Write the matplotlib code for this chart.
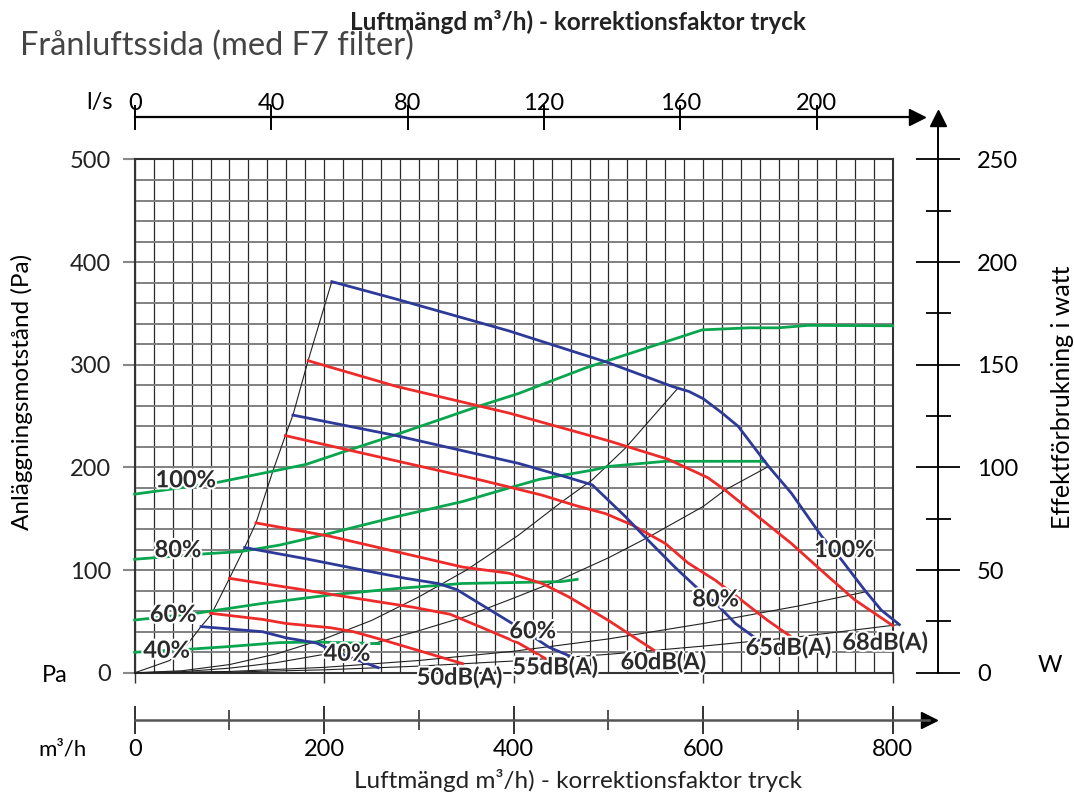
import matplotlib.pyplot as plt
import matplotlib.patheffects as pe

plt.rcParams['font.family'] = ['Lato', 'DejaVu Sans']

# fan curves: airflow (m3/h) against external pressure (Pa)
blue100_x = [208, 276, 395, 500, 567, 585, 600, 620, 637, 669, 693, 725, 746, 770, 788, 807]
blue100_y = [381, 364, 333, 302, 279, 274, 267, 253, 240, 201, 175, 133, 110, 81, 61, 47]
blue80_x = [167, 276, 405, 458, 483, 500, 518, 542, 570, 592, 613, 634, 658]
blue80_y = [251, 231, 204, 190, 183, 168, 152, 129, 103, 84, 68, 48, 32]
blue60_x = [116, 181, 241, 286, 320, 340, 363, 395, 416, 437, 460]
blue60_y = [122, 111, 100, 92, 87, 81, 68, 50, 38, 25, 16]
blue40_x = [70, 135, 160, 192, 210, 257]
blue40_y = [45, 40, 34, 29, 21, 5]

# sound level curves
red68_x = [183, 276, 395, 500, 563, 605, 623, 658, 693, 728, 760, 800]
red68_y = [304, 279, 253, 226, 208, 190, 178, 152, 126, 97, 71, 46]
red65_x = [159, 364, 395, 430, 465, 497, 525, 560, 584, 613, 640, 668, 693]
red65_y = [231, 188, 181, 173, 163, 155, 144, 126, 107, 90, 71, 51, 35]
red60_x = [128, 206, 276, 346, 395, 430, 458, 500, 548]
red60_y = [146, 133, 118, 103, 97, 87, 74, 51, 22]
red55_x = [100, 170, 210, 293, 333, 364, 405, 437]
red55_y = [92, 82, 76, 64, 57, 45, 29, 12]
red50_x = [80, 135, 160, 206, 231, 262, 333, 346]
red50_y = [58, 52, 48, 44, 40, 32, 12.5, 9]

# power consumption (W), right scale
green100_x = [0, 83, 146, 181, 223, 276, 363, 405, 476, 599, 648, 679, 711, 800]
green100_w = [87, 92.3, 98.2, 101.5, 108, 116, 129.8, 136, 148.5, 167, 168, 168, 169.2, 169]
green80_x = [0, 76, 111, 153, 206, 276, 346, 395, 427, 483, 500, 560, 665]
green80_w = [55.3, 58, 59, 62.2, 67.9, 76, 83.4, 90, 94.2, 98.7, 100.5, 103, 103]
green60_x = [0, 65, 135, 206, 276, 346, 405, 450, 467]
green60_w = [25.7, 29, 33.8, 37.9, 41, 43.5, 44, 44.4, 45.5]
green40_x = [0, 58, 100, 153, 192, 241, 258]
green40_w = [10, 11.5, 12.8, 14.7, 15, 14.4, 14.2]

# system curves through the origin
sys1_x = [0, 37, 55, 70, 81, 100, 116, 128, 146, 159, 167, 183, 208]
sys1_y = [0, 12, 27, 45, 57, 92, 122, 146, 197, 231, 251, 304, 381]
sys2_x = [0, 50, 100, 150, 200, 250, 300, 350, 405, 450, 483, 518, 574]
sys2_y = [0, 2, 8, 18.5, 33, 51, 74, 100, 134, 166, 188, 219, 278]
sys3_x = [0, 50, 100, 150, 200, 250, 300, 350, 395, 450, 500, 544, 600, 623, 669]
sys3_y = [0, 1.1, 4.5, 10, 18, 28, 41, 55, 71, 91, 112, 133, 162, 178, 201]
sys4_x = [0, 100, 200, 300, 400, 500, 600, 700, 772]
sys4_y = [0, 1.3, 5.3, 12, 21, 33, 48, 65, 79]
sys5_x = [0, 100, 200, 300, 400, 500, 600, 700, 807]
sys5_y = [0, 0.7, 2.9, 6.5, 11.5, 18, 26, 35, 47]

ls_ticks = [0, 40, 80, 120, 160, 200]
m3h_ticks = [0, 200, 400, 600, 800]
pa_ticks = [0, 100, 200, 300, 400, 500]
w_ticks = [0, 50, 100, 150, 200, 250]

# labels: (text, x, y)
fan_labels = [('100%', 749, 120), ('80%', 613, 72), ('60%', 420, 41), ('40%', 224, 19)]
power_labels = [('100%', 22, 188), ('80%', 21, 120), ('60%', 16, 57), ('40%', 9, 22)]
db_labels = [('50dB(A)', 343, -4), ('55dB(A)', 444, 6), ('60dB(A)', 558, 11),
             ('65dB(A)', 690, 25), ('68dB(A)', 792, 30)]

W_PX, H_PX = 1074, 796
X0, X800 = 134.7, 892.7      # pixel columns of 0 and 800 m3/h
Y0, Y500 = 672.8, 159.45     # pixel rows of 0 and 500 Pa
px_per_m3h = (X800 - X0) / 800
px_per_pa = (Y0 - Y500) / 500


def fx(px):
    return px / W_PX


def fy(py):
    return 1 - py / H_PX


fig = plt.figure(figsize=(10.74, 7.96), dpi=100)
ax = fig.add_axes([fx(X0), fy(Y0), fx(X800) - fx(X0), fy(Y500) - fy(Y0)])
ax.set_xlim(0, 800)
ax.set_ylim(0, 500)
ax.set_axisbelow(True)
ax.set_xticks(m3h_ticks)
ax.set_xticks(range(0, 801, 20), minor=True)
ax.set_yticks(pa_ticks)
ax.set_yticks(range(0, 501, 20), minor=True)
ax.xaxis.grid(True, which='both', color='#2a2a2a', lw=0.9)
ax.yaxis.grid(True, which='both', color='#808080', lw=1.4)
ax.tick_params(which='minor', length=0)
ax.tick_params(axis='x', which='major', direction='out', length=7, width=1, color='#333',
               labelbottom=False)
ax.tick_params(axis='y', which='major', direction='out', length=9, width=1.5, color='#888',
               labelsize=17, pad=8, labelcolor='#222')
for s in ax.spines.values():
    s.set_color('#333')
    s.set_linewidth(1.5)

for x, y in [(sys1_x, sys1_y), (sys2_x, sys2_y), (sys3_x, sys3_y), (sys4_x, sys4_y), (sys5_x, sys5_y)]:
    ax.plot(x, y, color='#222', lw=0.8, clip_on=False, zorder=3)

axw = ax.twinx()
axw.set_ylim(0, 250)
axw.axis('off')
green = '#0aa64f'
for x, w in [(green100_x, green100_w), (green80_x, green80_w), (green60_x, green60_w), (green40_x, green40_w)]:
    axw.plot(x, w, color=green, lw=2.0, clip_on=False, zorder=4)

red = '#ee2b2b'
for x, y in [(red68_x, red68_y), (red65_x, red65_y), (red60_x, red60_y), (red55_x, red55_y), (red50_x, red50_y)]:
    axw.plot(x, [v / 2 for v in y], color=red, lw=2.0, clip_on=False, zorder=5)
blue = '#2e3a98'
for x, y in [(blue100_x, blue100_y), (blue80_x, blue80_y), (blue60_x, blue60_y), (blue40_x, blue40_y)]:
    axw.plot(x, [v / 2 for v in y], color=blue, lw=2.0, clip_on=False, zorder=5)

halo = [pe.withStroke(linewidth=3, foreground='white')]
for txt, x, y in fan_labels + db_labels:
    axw.text(x, y / 2, txt, ha='center', va='center', fontsize=17, fontweight='bold',
             color='#2a2a2a', path_effects=halo, zorder=8, clip_on=False)
for txt, x, y in power_labels:
    axw.text(x, y / 2, txt, ha='left', va='center', fontsize=17, fontweight='bold',
             color='#2a2a2a', path_effects=halo, zorder=8)

# l/s scale on top
top_tip = 917
top = fig.add_axes([fx(X0), fy(116.7), fx(top_tip) - fx(X0), 0.0001])
top.set_xlim(0, (top_tip - X0) / px_per_m3h / 3.6)
top.set_yticks([])
top.patch.set_visible(False)
for k in ['left', 'right', 'bottom']:
    top.spines[k].set_visible(False)
top.spines['top'].set_linewidth(1.6)
top.xaxis.tick_top()
top.set_xticks(ls_ticks)
top.tick_params(axis='x', direction='inout', length=18, width=1.4, labelsize=17, pad=-7)
top.plot(1, 1, '>', color='k', ms=11, transform=top.transAxes, clip_on=False)

# m3/h scale at the bottom
bot_tip = 929
bot = fig.add_axes([fx(X0), fy(720), fx(bot_tip) - fx(X0), 0.0001])
bot.set_xlim(0, (bot_tip - X0) / px_per_m3h)
bot.set_yticks([])
bot.patch.set_visible(False)
for k in ['left', 'right', 'top']:
    bot.spines[k].set_visible(False)
bot.spines['bottom'].set_linewidth(1.8)
bot.spines['bottom'].set_color('#555')
bot.set_xticks(m3h_ticks)
bot.set_xticks([100, 300, 500, 700], minor=True)
bot.tick_params(axis='x', which='major', direction='inout', length=20, width=1.3, labelsize=17, pad=4,
                color='#222')
bot.tick_params(axis='x', which='minor', direction='inout', length=14, width=1.1, color='#222')
bot.plot(1, 0, '>', color='k', ms=11, transform=bot.transAxes, clip_on=False)

# watt scale on the right
w_tip = 118
wax = fig.add_axes([fx(938), fy(Y0), 0.0001, fy(w_tip) - fy(Y0)])
wax.set_ylim(0, (Y0 - w_tip) / px_per_pa / 2)
wax.set_xticks([])
wax.patch.set_visible(False)
for k in ['left', 'top', 'bottom']:
    wax.spines[k].set_visible(False)
wax.spines['right'].set_linewidth(1.4)
wax.yaxis.tick_right()
wax.set_yticks(w_ticks)
wax.set_yticks([25, 75, 125, 175, 225], minor=True)
wax.tick_params(axis='y', which='major', direction='inout', length=32, width=1.3, labelsize=17, pad=12)
wax.tick_params(axis='y', which='minor', direction='inout', length=18, width=1.3)
wax.plot(0, 1, '^', color='k', ms=11, transform=wax.transAxes, clip_on=False)

fig.text(fx(20), fy(46), 'Frånluftssida (med F7 filter)', fontsize=23.5, fontweight='normal',
         ha='left', va='center', color='#444')
axis_title = 'Luftmängd m³/h) - korrektionsfaktor tryck'
fig.text(fx(578), fy(22), axis_title, fontsize=17.5, fontweight='bold', ha='center', va='center',
         color='#222')
fig.text(fx(578), fy(780), axis_title, fontsize=17.5, ha='center', va='center', color='#222')
fig.text(fx(100), fy(102), 'l/s', fontsize=17, ha='center', va='center')
fig.text(fx(62), fy(750), 'm³/h', fontsize=16, ha='center', va='center')
fig.text(fx(55), fy(676), 'Pa', fontsize=17, ha='center', va='center')
fig.text(fx(1050), fy(665), 'W', fontsize=17, ha='center', va='center')
fig.text(fx(22), fy(392), 'Anläggningsmotstånd (Pa)', rotation=90, fontsize=17.5,
         ha='center', va='center')
fig.text(fx(1063), fy(397), 'Effektförbrukning i watt', rotation=90, fontsize=18,
         ha='center', va='center')

fig.savefig('out.png', dpi=100)
